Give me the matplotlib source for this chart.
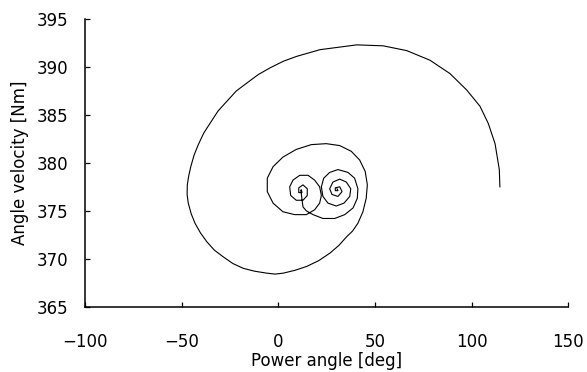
import matplotlib
matplotlib.use("Agg")
import matplotlib.pyplot as plt

# trajectory points
# order: outer spiral -> middle loop -> left ring -> tail -> right ring
power_angle = [
    114.6, 114.3, 112.1, 108.6, 104.3, 97.4, 88.8, 78.4, 66.4, 54.2,
    40.5, 21.5, 9.4, 2.6, -4.4, -10.5, -16.5, -21.8, -26.8, -31.3,
    -35.5, -38.7, -41.5, -43.7, -45.4, -46.5, -47.2, -47.3, -46.7, -45.2,
    -43.2, -40.4, -37.2, -33.2, -28.6, -23.6, -18.2, -12.3, -6.1, -1.8,
    2.5, 8.6, 14.6, 20.8, 26.7, 31.3, 35.3, 38.4,
    41.1, 43.7, 45.4, 46.0, 44.9, 42.0, 37.7, 31.7, 24.7, 17.0,
    9.2, 2.3, -2.8, -5.8, -5.8, -2.8, 2.3, 8.4, 14.4, 18.7,
    21.3, 22.2, 21.3, 18.7, 15.3, 11.0, 7.5, 5.8, 6.3, 9.2,
    12.7, 14.9, 14.9, 12.7, 10.5, 10.5, 12.2, 11.8, 11.5,
    11.8, 12.2, 12.7, 14.4, 17.9, 23.0, 29.1, 34.3, 38.6, 40.8,
    41.1, 39.4, 36.0, 30.8, 26.5, 23.4, 22.2, 23.0, 25.6, 29.9,
    33.9, 36.9, 37.4, 35.1, 31.7, 28.2, 26.5, 27.7, 30.8, 32.9,
    31.7, 29.4, 29.4, 30.8, 30.3,
]
angle_velocity = [
    377.5, 379.3, 382.0, 384.1, 385.9, 387.6, 389.3, 390.7, 391.7, 392.2,
    392.3, 391.8, 391.1, 390.6, 389.9, 389.2, 388.3, 387.5, 386.4, 385.4,
    384.1, 383.1, 381.9, 380.8, 379.6, 378.6, 377.7, 376.7, 375.8, 374.7,
    373.7, 372.7, 371.8, 370.9, 370.2, 369.5, 369.0, 368.7, 368.5, 368.4,
    368.5, 368.8, 369.2, 369.8, 370.6, 371.4, 372.3, 372.9,
    373.7, 374.9, 376.3, 377.7, 379.1, 380.3, 381.2, 381.8, 382.0, 381.9,
    381.4, 380.6, 379.6, 378.4, 377.0, 375.8, 374.9, 374.6, 374.6, 375.1,
    375.8, 376.6, 377.5, 378.2, 378.7, 378.7, 378.2, 377.5, 376.6, 376.1,
    376.1, 376.6, 377.3, 377.7, 377.4, 376.9, 376.9, 377.2, 377.1,
    376.8, 376.1, 375.4, 375.0, 374.6, 374.2, 374.2, 374.6, 375.3, 376.3,
    377.3, 378.4, 379.0, 379.3, 379.0, 378.4, 377.5, 376.5, 375.8, 375.5,
    375.8, 376.5, 377.3, 378.0, 378.3, 378.0, 377.3, 376.7, 376.5, 377.0,
    377.5, 377.4, 377.1, 377.1, 377.3,
]

x_ticks = [-100, -50, 0, 50, 100, 150]
x_labels = ["\u2212100", "\u221250", "0", "50", "100", "150"]
y_ticks = [365, 370, 375, 380, 385, 390, 395]

plt.rcParams["font.family"] = ["DejaVu Sans"]

fig = plt.figure(figsize=(5.87, 3.72), dpi=100)
ax = fig.add_axes([0.1453, 0.1755, 0.8228, 0.7735])

ax.plot(power_angle, angle_velocity, color="black", linewidth=0.8,
        solid_joinstyle="round")

ax.set_xlim(-100, 150)
ax.set_ylim(365, 395)
ax.set_xticks(x_ticks)
ax.set_xticklabels(x_labels)
ax.set_yticks(y_ticks)

ax.spines["top"].set_visible(False)
ax.spines["right"].set_visible(False)
ax.spines["left"].set_linewidth(1.1)
ax.spines["bottom"].set_linewidth(1.1)
ax.tick_params(axis="both", direction="in", length=3.5, width=0.9, labelsize=12)
ax.tick_params(axis="x", pad=19)
ax.tick_params(axis="y", pad=12)

ax.set_xlabel("Power angle [deg]", fontsize=12, labelpad=1)
ax.set_ylabel("Angle velocity [Nm]", fontsize=12, labelpad=6)

fig.savefig("out.png", dpi=100)
